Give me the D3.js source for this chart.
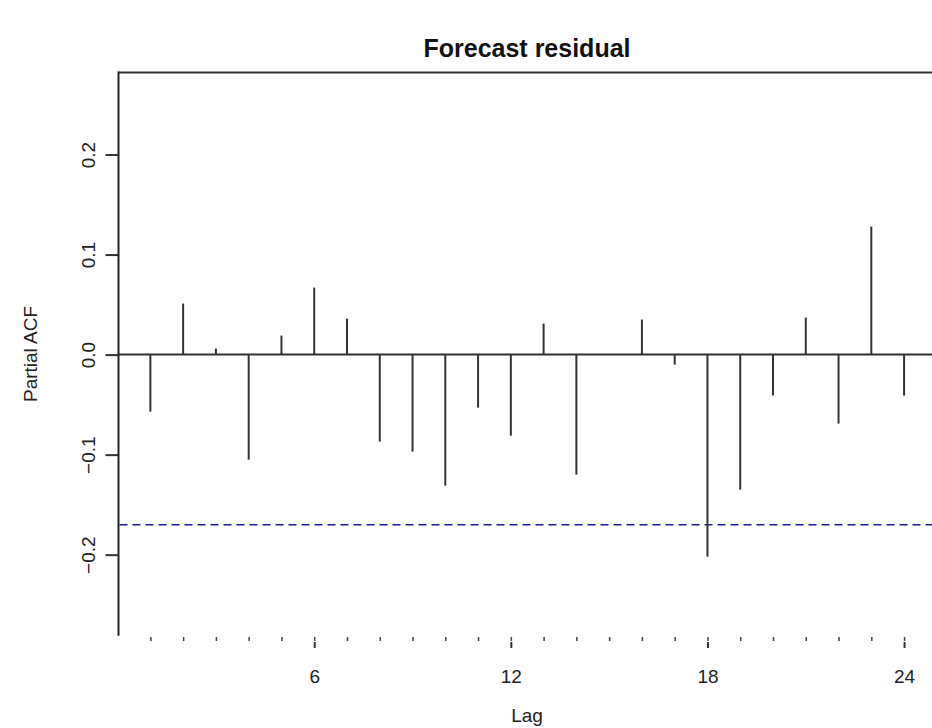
<!DOCTYPE html>
<html>
<head>
<meta charset="utf-8">
<script src="https://cdn.jsdelivr.net/npm/d3@7"></script>
<style>
  body { margin: 0; background: #fff; }
  text { font-family: "Liberation Sans", Arial, sans-serif; }
</style>
</head>
<body>
<svg width="932" height="728"></svg>
<script>
// partial autocorrelations of the forecast residuals, lags 1..24
var lags = d3.range(1, 25);
var pacf = [-0.057, 0.051, 0.006, -0.105, 0.019, 0.067, 0.036, -0.087,
            -0.097, -0.131, -0.053, -0.081, 0.031, -0.120, 0.000, 0.035,
            -0.010, -0.202, -0.135, -0.041, 0.037, -0.069, 0.128, -0.041];
var ciLower = -0.170;
var yTicks = [-0.2, -0.1, 0.0, 0.1, 0.2];
var xMajor = [6, 12, 18, 24];
var xMinor = d3.range(1, 26);

(function() {
  var svg = d3.select("svg"),
      width = +svg.attr("width"),
      height = +svg.attr("height");

  var plotLeft = 118.5, plotTop = 72.5, plotBottom = 635.7;

  var x = d3.scaleLinear().domain([0, 25]).range([117.6, 117.6 + 25 * 32.77]);
  var y = d3.scaleLinear().domain([-0.281, 0.282]).range([plotBottom, plotTop]);

  var data = lags.map(function(l, i) { return {lag: l, v: pacf[i]}; });

  // title
  svg.append("text")
      .attr("x", 527)
      .attr("y", 57)
      .attr("text-anchor", "middle")
      .style("font-size", "25px")
      .style("font-weight", "bold")
      .attr("fill", "#111")
      .text("Forecast residual");

  // box: top and left only (the rest is cut off)
  svg.append("line")
      .attr("x1", plotLeft).attr("x2", width)
      .attr("y1", plotTop).attr("y2", plotTop)
      .attr("stroke", "#333").attr("stroke-width", 2);

  // y axis
  var yAxis = svg.append("g")
      .attr("transform", "translate(" + plotLeft + ",0)")
      .call(d3.axisLeft(y).tickValues(yTicks).tickSize(13).tickFormat(d3.format(".1f")));
  yAxis.select(".domain").remove();
  yAxis.selectAll("line").attr("stroke", "#333").attr("stroke-width", 2);
  yAxis.selectAll("text")
      .attr("transform", "rotate(-90)")
      .attr("x", 0)
      .attr("y", -24)
      .attr("dy", 0)
      .attr("text-anchor", "middle")
      .attr("fill", "#222")
      .style("font-size", "19px")
      .style("font-family", "Liberation Sans, Arial, sans-serif");

  svg.append("line")
      .attr("x1", plotLeft).attr("x2", plotLeft)
      .attr("y1", plotTop - 1).attr("y2", plotBottom)
      .attr("stroke", "#222").attr("stroke-width", 2);

  // x axis: small ticks at each lag, longer labelled ticks at 6, 12, 18, 24
  var minorAxis = svg.append("g")
      .attr("transform", "translate(0,637)")
      .call(d3.axisBottom(x).tickValues(xMinor).tickSize(4).tickFormat(""));
  minorAxis.select(".domain").remove();
  minorAxis.selectAll("line").attr("stroke", "#444").attr("stroke-width", 1.5);

  var majorAxis = svg.append("g")
      .attr("transform", "translate(0,642)")
      .call(d3.axisBottom(x).tickValues(xMajor).tickSize(6).tickPadding(22));
  majorAxis.select(".domain").remove();
  majorAxis.selectAll("line").attr("stroke", "#333").attr("stroke-width", 2);
  majorAxis.selectAll("text")
      .attr("fill", "#222")
      .style("font-size", "19px")
      .style("font-family", "Liberation Sans, Arial, sans-serif");

  // axis titles
  svg.append("text")
      .attr("x", 527)
      .attr("y", 722)
      .attr("text-anchor", "middle")
      .attr("fill", "#222")
      .style("font-size", "19px")
      .text("Lag");

  svg.append("text")
      .attr("transform", "translate(37,354) rotate(-90)")
      .attr("text-anchor", "middle")
      .attr("fill", "#222")
      .style("font-size", "19px")
      .text("Partial ACF");

  // zero line
  svg.append("line")
      .attr("x1", plotLeft).attr("x2", width)
      .attr("y1", y(0)).attr("y2", y(0))
      .attr("stroke", "#333").attr("stroke-width", 2);

  // confidence bound
  svg.append("line")
      .attr("x1", plotLeft + 1).attr("x2", width)
      .attr("y1", y(ciLower)).attr("y2", y(ciLower))
      .attr("stroke", "#1a1a9e").attr("stroke-width", 1.5)
      .attr("stroke-dasharray", "8,5");

  // spikes
  svg.append("g")
      .selectAll("line")
      .data(data)
      .enter().append("line")
      .attr("x1", function(d) { return x(d.lag); })
      .attr("x2", function(d) { return x(d.lag); })
      .attr("y1", y(0))
      .attr("y2", function(d) { return y(d.v); })
      .attr("stroke", "#333")
      .attr("stroke-width", 2);
})();
</script>
</body>
</html>
